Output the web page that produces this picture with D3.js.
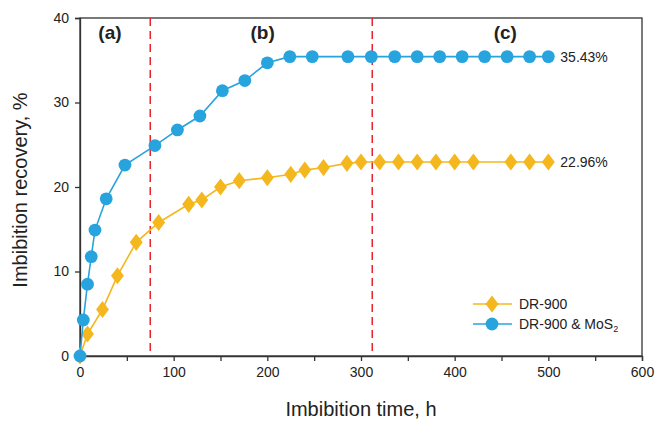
<!DOCTYPE html>
<html>
<head>
<meta charset="utf-8">
<script src="https://cdn.jsdelivr.net/npm/d3@7"></script>
<style>
  html, body { margin: 0; padding: 0; background: #fff; }
  svg { display: block; font-family: "Liberation Sans", Arial, sans-serif; }
</style>
</head>
<body>
<svg id="chart" width="655" height="423"></svg>
<script>
// Imbibition recovery over time for the two fluids
const timeDR = [0, 8, 24, 40, 60, 84, 116, 130, 150, 170, 200, 225, 240, 260, 285, 300, 320, 340, 360, 380, 400, 420, 460, 480, 500];
const recDR  = [0, 2.6, 5.5, 9.5, 13.45, 15.8, 17.95, 18.46, 20.0, 20.75, 21.1, 21.5, 22.0, 22.3, 22.8, 22.96, 22.96, 22.96, 22.96, 22.96, 22.96, 22.96, 22.96, 22.96, 22.96];

const timeMo = [0, 3.5, 8, 12, 16, 28, 48, 80, 104, 128, 152, 176, 200, 224, 248, 286, 311, 336, 360, 384, 408, 432, 456, 480, 500];
const recMo  = [0, 4.26, 8.5, 11.75, 14.9, 18.6, 22.6, 24.9, 26.75, 28.4, 31.4, 32.6, 34.7, 35.43, 35.43, 35.43, 35.43, 35.43, 35.43, 35.43, 35.43, 35.43, 35.43, 35.43, 35.43];

const xTicks = [0, 100, 200, 300, 400, 500, 600];
const xMinorTicks = [50, 150, 250, 350, 450, 550];
const yTicks = [0, 10, 20, 30, 40];

// Stage boundaries (h) and stage labels
const stageBounds = [75, 312];
const stageLabels = [
  { text: "(a)", t: 32 },
  { text: "(b)", t: 195 },
  { text: "(c)", t: 454 }
];
const finalLabels = ["35.43%", "22.96%"];

const blue = "#27a4de";
const yellow = "#f4b71d";

const svg = d3.select("#chart");
const m = { left: 80, top: 18, right: 642, bottom: 356 };

const x = d3.scaleLinear().domain([0, 600]).range([m.left, m.right]);
const y = d3.scaleLinear().domain([0, 40]).range([m.bottom, m.top]);

// Frame
svg.append("rect")
  .attr("x", m.left).attr("y", m.top)
  .attr("width", m.right - m.left).attr("height", m.bottom - m.top)
  .attr("fill", "none").attr("stroke", "#333").attr("stroke-width", 1.3);

// Axes
svg.append("g").attr("transform", `translate(0,${m.bottom})`)
  .call(d3.axisBottom(x).tickValues(xTicks).tickSize(5).tickPadding(6).tickFormat(d3.format("d")));
svg.append("g").attr("transform", `translate(0,${m.bottom})`)
  .call(d3.axisBottom(x).tickValues(xMinorTicks).tickSize(5).tickFormat(""))
  .call(g => g.select(".domain").remove());
svg.append("g").attr("transform", `translate(${m.left},0)`)
  .call(d3.axisLeft(y).tickValues(yTicks).tickSize(5).tickPadding(6).tickFormat(d3.format("d")));

svg.selectAll(".tick line").attr("stroke", "#333").attr("stroke-width", 1.3);
svg.selectAll(".domain").attr("stroke", "#333").attr("stroke-width", 1.3);
svg.selectAll(".tick text").attr("font-size", 14).attr("fill", "#222")
  .attr("font-family", "'Liberation Sans', Arial, sans-serif");

// Stage boundaries
svg.selectAll(".bound").data(stageBounds).join("line")
  .attr("x1", d => x(d)).attr("x2", d => x(d))
  .attr("y1", m.top).attr("y2", m.bottom)
  .attr("stroke", "#e8232b").attr("stroke-width", 1.5)
  .attr("stroke-dasharray", "8,5");

// Stage labels
svg.selectAll(".stage").data(stageLabels).join("text")
  .attr("x", d => x(d.t)).attr("y", 39)
  .attr("text-anchor", "middle")
  .attr("font-size", 19).attr("font-weight", "bold").attr("fill", "#222")
  .text(d => d.text);

const line = d3.line().x(d => x(d[0])).y(d => y(d[1]));
const dr = timeDR.map((t, i) => [t, recDR[i]]);
const mo = timeMo.map((t, i) => [t, recMo[i]]);

// DR-900 series
svg.append("path").datum(dr).attr("d", line)
  .attr("fill", "none").attr("stroke", yellow).attr("stroke-width", 1.6);
const diamond = d3.symbol().type(d3.symbolDiamond).size(85);
svg.selectAll(".dr").data(dr).join("path")
  .attr("d", diamond)
  .attr("transform", d => `translate(${x(d[0])},${y(d[1])}) scale(1.3,1)`)
  .attr("fill", yellow);

// DR-900 & MoS2 series
svg.append("path").datum(mo).attr("d", line)
  .attr("fill", "none").attr("stroke", blue).attr("stroke-width", 1.6);
svg.selectAll(".mo").data(mo).join("circle")
  .attr("cx", d => x(d[0])).attr("cy", d => y(d[1])).attr("r", 6.4)
  .attr("fill", blue);

// Final recovery labels
const lastMo = mo[mo.length - 1], lastDR = dr[dr.length - 1];
[[lastMo, finalLabels[0]], [lastDR, finalLabels[1]]].forEach(([p, txt]) => {
  svg.append("text")
    .attr("x", x(p[0]) + 12).attr("y", y(p[1]) + 5)
    .attr("font-size", 14).attr("fill", "#222").text(txt);
});

// Legend
const legend = svg.append("g");
const lg = [
  { y: 304, color: yellow, kind: "diamond" },
  { y: 324, color: blue, kind: "circle" }
];
lg.forEach(item => {
  legend.append("line").attr("x1", 473).attr("x2", 512)
    .attr("y1", item.y).attr("y2", item.y)
    .attr("stroke", item.color).attr("stroke-width", 1.6);
  if (item.kind === "diamond") {
    legend.append("path").attr("d", diamond)
      .attr("transform", `translate(492,${item.y}) scale(1.3,1)`).attr("fill", item.color);
  } else {
    legend.append("circle").attr("cx", 492).attr("cy", item.y).attr("r", 6.4).attr("fill", item.color);
  }
});
legend.append("text").attr("x", 519).attr("y", 309).attr("font-size", 14).attr("fill", "#222").text("DR-900");
const t2 = legend.append("text").attr("x", 519).attr("y", 329).attr("font-size", 14).attr("fill", "#222");
t2.append("tspan").text("DR-900 & MoS");
t2.append("tspan").attr("font-size", 9).attr("dy", 3).text("2");

// Axis titles
svg.append("text").attr("x", (m.left + m.right) / 2).attr("y", 416)
  .attr("text-anchor", "middle").attr("font-size", 20).attr("fill", "#222")
  .text("Imbibition time, h");
svg.append("text")
  .attr("transform", `translate(27,${(m.top + m.bottom) / 2 + 3}) rotate(-90)`)
  .attr("text-anchor", "middle").attr("font-size", 20).attr("fill", "#222")
  .text("Imbibition recovery, %");
</script>
</body>
</html>
